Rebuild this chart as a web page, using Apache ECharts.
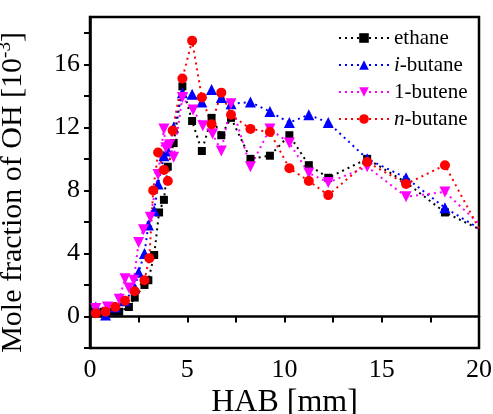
<!DOCTYPE html>
<html>
<head>
<meta charset="utf-8">
<script src="https://cdn.jsdelivr.net/npm/echarts@6/dist/echarts.min.js"></script>
<style>
    html, body { margin: 0; padding: 0; background: #fff; }
    #chart_main { width: 493px; height: 414px; }
</style>
</head>
<body>
<div id="chart_main"></div>
<script>
var FONT = '"Liberation Serif", "Times New Roman", serif';

// HAB [mm] / OH [10^-3]
var ethaneX = [0.2, 0.7, 1.2, 1.5, 2.0, 2.3, 2.8, 3.0, 3.3, 3.55, 3.8, 4.0, 4.3, 4.75, 5.25, 5.75, 6.25, 6.75, 7.25, 8.25, 9.25, 10.25, 11.25, 12.25, 14.25, 16.25, 18.25, 20.25];
var ethaneY = [0.3, 0.3, 0.3, 0.3, 0.6, 1.2, 2.0, 2.3, 3.9, 6.6, 7.4, 9.5, 11.0, 14.6, 12.4, 10.5, 12.6, 11.5, 12.6, 10.0, 10.2, 11.5, 9.6, 8.8, 10.0, 8.5, 6.6, 5.4];

var ibutaneX = [0.3, 0.8, 1.3, 1.8, 2.3, 2.5, 2.8, 3.0, 3.3, 3.5, 3.8, 4.0, 4.3, 4.75, 5.25, 5.75, 6.25, 6.75, 7.25, 8.25, 9.25, 10.25, 11.25, 12.25, 14.25, 16.25, 18.25, 20.25];
var ibutaneY = [0.6, 0.1, 0.6, 1.0, 1.8, 2.8, 4.0, 5.8, 6.7, 8.4, 10.2, 10.5, 12.0, 14.2, 14.1, 13.6, 14.4, 13.9, 13.5, 13.6, 13.0, 12.3, 12.8, 12.3, 10.0, 8.8, 6.9, 5.4];

var butene1X = [0.3, 0.9, 1.5, 1.8, 2.0, 2.25, 2.5, 2.75, 3.1, 3.5, 3.8, 3.9, 4.1, 4.3, 4.75, 5.3, 5.8, 6.3, 6.75, 7.25, 8.25, 9.25, 10.25, 11.25, 12.25, 14.25, 16.25, 18.25, 20.25];
var butene1Y = [0.5, 0.6, 1.1, 2.4, 1.8, 2.3, 4.7, 5.5, 6.3, 9.0, 11.9, 10.7, 10.9, 10.1, 13.9, 13.1, 12.1, 11.6, 10.5, 13.5, 9.5, 11.9, 11.0, 9.1, 8.5, 9.5, 7.6, 7.9, 5.6];

var nbutaneX = [0.3, 0.8, 1.3, 1.8, 2.3, 2.8, 3.05, 3.25, 3.5, 3.8, 4.0, 4.25, 4.75, 5.25, 5.75, 6.25, 6.75, 7.25, 8.25, 9.25, 10.25, 11.25, 12.25, 14.25, 16.25, 18.25, 20.25];
var nbutaneY = [0.2, 0.3, 0.6, 1.0, 1.6, 2.3, 3.7, 8.0, 10.4, 9.3, 8.6, 11.8, 15.1, 17.5, 13.9, 12.2, 14.2, 12.8, 11.9, 11.7, 9.4, 8.6, 7.7, 9.8, 8.4, 9.6, 5.0];

var xTicks = [0, 5, 10, 15, 20];
var yTicks = [0, 4, 8, 12, 16];

function pairs(xs, ys) {
    var out = [];
    for (var i = 0; i < xs.length; i++) {
        out.push([xs[i], ys[i]]);
    }
    return out;
}

function makeSeries(name, xs, ys, color, symbol, size, rotate) {
    return {
        name: name,
        type: 'line',
        data: pairs(xs, ys),
        symbol: symbol,
        symbolSize: size,
        symbolRotate: rotate || 0,
        showAllSymbol: true,
        clip: true,
        itemStyle: { color: color },
        lineStyle: { color: color, width: 2, type: [2, 4] }
    };
}

var myChart = echarts.init(document.getElementById('chart_main'), null, { renderer: 'canvas' });

var option = {
    animation: false,
    backgroundColor: '#fff',
    grid: {
        left: 90,
        right: 14,
        top: 17,
        bottom: 66,
        containLabel: false,
        outerBoundsMode: 'none',
        show: true,
        borderColor: '#000',
        borderWidth: 2.5,
        backgroundColor: 'transparent'
    },
    legend: {
        orient: 'vertical',
        left: 333,
        top: 22,
        itemWidth: 50,
        itemHeight: 12,
        itemGap: 5,
        textStyle: {
            fontFamily: FONT,
            fontSize: 21,
            color: '#000',
            lineHeight: 22,
            rich: {
                it: { fontFamily: FONT, fontSize: 21, fontStyle: 'italic', color: '#000' }
            }
        },
        formatter: function (name) {
            if (name === 'i-butane') return '{it|i}-butane';
            if (name === 'n-butane') return '{it|n}-butane';
            return name;
        },
        data: ['ethane', 'i-butane', '1-butene', 'n-butane']
    },
    xAxis: {
        type: 'value',
        min: 0,
        max: 20,
        interval: 2.5,
        name: 'HAB [mm]',
        nameLocation: 'middle',
        nameGap: 39,
        nameMoveOverlap: false,
        nameTextStyle: { fontFamily: FONT, fontSize: 32, color: '#000' },
        axisLine: { lineStyle: { color: '#000', width: 2.5 } },
        axisTick: { length: 6, lineStyle: { color: '#000', width: 2 } },
        axisLabel: {
            fontFamily: FONT,
            fontSize: 26,
            color: '#000',
            margin: 9,
            formatter: function (v) {
                return xTicks.indexOf(v) >= 0 ? String(v) : '';
            }
        },
        splitLine: { show: false }
    },
    yAxis: {
        type: 'value',
        min: -2,
        max: 19,
        interval: 2,
        name: 'Mole fraction of OH [10{sup|-3}]',
        nameLocation: 'middle',
        nameGap: 60,
        nameMoveOverlap: false,
        nameTextStyle: {
            fontFamily: FONT,
            fontSize: 30,
            color: '#000',
            lineHeight: 34,
            padding: [0, 20, 0, 0],
            rich: {
                sup: { fontFamily: FONT, fontSize: 19, color: '#000', verticalAlign: 'top', lineHeight: 34, padding: [0, 0, 12, 0] }
            }
        },
        axisLine: { lineStyle: { color: '#000', width: 2.5 } },
        axisTick: { length: 6, lineStyle: { color: '#000', width: 2 } },
        axisLabel: {
            fontFamily: FONT,
            fontSize: 26,
            color: '#000',
            margin: 10,
            showMaxLabel: false,
            formatter: function (v) {
                return yTicks.indexOf(v) >= 0 ? String(v) : '';
            }
        },
        splitLine: { show: false }
    },
    series: [
        makeSeries('ethane', ethaneX, ethaneY, '#000000', 'rect', 8),
        makeSeries('i-butane', ibutaneX, ibutaneY, '#0000ff', 'triangle', 11),
        makeSeries('1-butene', butene1X, butene1Y, '#ff00ff', 'triangle', 11, 180),
        makeSeries('n-butane', nbutaneX, nbutaneY, '#ff0000', 'circle', 10)
    ]
};

myChart.setOption(option);
</script>
</body>
</html>
